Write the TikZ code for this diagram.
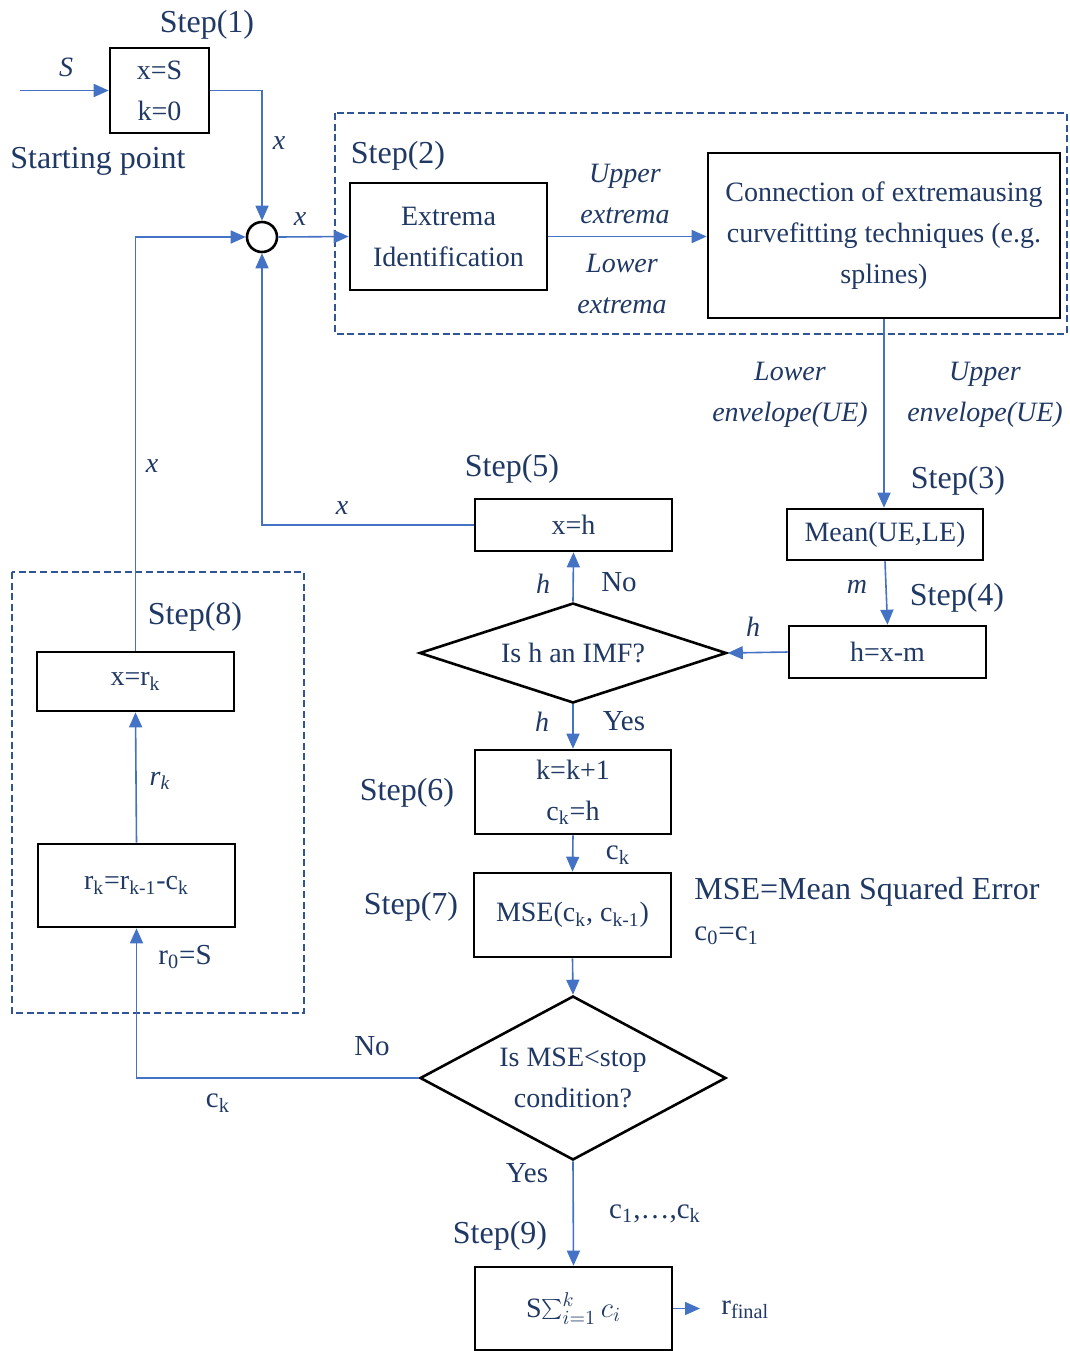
\documentclass[tikz,border=0pt]{standalone}
\usepackage{fontspec}
\setmainfont{Liberation Serif}
\usetikzlibrary{arrows.meta,shapes.geometric}
\definecolor{ink}{HTML}{1F3864}
\definecolor{flow}{HTML}{4472C4}
\definecolor{grp}{HTML}{2F5597}
\tikzset{
  x=0.5pt, y=-0.5pt,
  every node/.style={text=ink, inner sep=0pt},
  box/.style={draw=black, line width=1.3pt, align=center,
    font=\fontsize{14}{20.5}\selectfont},
  dec/.style={draw=black, line width=1.3pt, diamond, align=center,
    font=\fontsize{14}{20.5}\selectfont},
  lbl/.style={font=\fontsize{16}{18}\selectfont},
  var/.style={font=\fontsize{14}{20.5}\selectfont\itshape, align=center},
  sym/.style={font=\fontsize{14.5}{18}\selectfont},
  flowline/.style={draw=flow, line width=0.8pt},
  arr/.style={flowline, -{Triangle[length=7.5pt,width=6.5pt]}},
  group/.style={draw=grp, line width=1.1pt, dash pattern=on 3.5pt off 1.8pt},
}
\begin{document}
\begin{tikzpicture}
\useasboundingbox (0,0) rectangle (1070,1351);

% dashed groups
\draw[group] (335,113) rectangle (1067,334);
\draw[group] (12,572) rectangle (304,1013);

% step 1
\node[lbl] (s1) at (207,25) {Step(1)};
\node[box, minimum width=49.5pt, minimum height=42.5pt] (b1) at (159.5,90.5) {x=S\\k=0};
\coordinate (in) at (20,90.5);
\node[var] (lS) at (66,67) {S};
\node[font=\fontsize{16}{18}\selectfont] (start) at (98,161) {Starting point};

% summing junction
\node[draw=black, line width=1.3pt, circle, minimum size=15pt] (cir) at (262,237) {};

% step 2
\node[lbl] (s2) at (398,156) {Step(2)};
\node[box, minimum width=98.5pt, minimum height=53.5pt] (extr) at (448.5,236.5) {Extrema\\Identification};
\node[box, minimum width=176pt, minimum height=82.5pt] (conn) at (884,235.5)
  {Connection of extremausing\\curvefitting techniques (e.g.\\splines)};
\node[var] (lup) at (625,194) {Upper\\extrema};
\node[var] (llo) at (622,283.5) {Lower\\extrema};

% step 3 / 4
\node[var] (lle) at (790,394.5) {Lower\\envelope(UE)};
\node[var] (lue) at (985,394.5) {Upper\\envelope(UE)};
\node[lbl] (s3) at (958,481) {Step(3)};
\node[box, minimum width=98pt, minimum height=25.5pt] (mean) at (885,534.5) {Mean(UE,LE)};
\node[var] (lm) at (857,587) {m};
\node[lbl] (s4) at (957,598) {Step(4)};
\node[box, minimum width=98.5pt, minimum height=26pt] (hxm) at (887.5,652) {h=x-m};
\node[var] (lh1) at (753,627) {h};

% step 5
\node[lbl] (s5) at (512,469) {Step(5)};
\node[box, minimum width=98.5pt, minimum height=26pt] (xh) at (573.5,525) {x=h};
\node[dec, aspect=3.07, minimum width=153.5pt, minimum height=50pt] (imf) at (573,653) {Is h an IMF?};
\node[var] (lh2) at (543,584) {h};
\node[sym] (lno1) at (619,582) {No};
\node[var] (lh3) at (542,722) {h};
\node[sym] (lyes1) at (624,721) {Yes};
\node[var] (lx3) at (342,508) {x};

% step 6 / 7
\node[lbl] (s6) at (407,793) {Step(6)};
\node[box, minimum width=98pt, minimum height=42pt] (kb) at (573,792) {k=k+1\\c\textsubscript{k}=h};
\node[sym] (lck1) at (618,855) {c\textsubscript{k}};
\node[lbl] (s7) at (411,907) {Step(7)};
\node[box, minimum width=98.5pt, minimum height=42pt] (mse) at (572.5,915) {MSE(c\textsubscript{k}, c\textsubscript{k-1})};
\node[font=\fontsize{16}{18}\selectfont, anchor=west] (mdef) at (694,892) {MSE=Mean Squared Error};
\node[sym, anchor=west] (c01) at (694,936) {c\textsubscript{0}=c\textsubscript{1}};

% stop test
\node[dec, aspect=1.87, minimum width=153pt, minimum height=82pt] (stop) at (573,1078) {Is MSE<stop\\condition?};
\node[sym] (lno2) at (372,1046) {No};
\node[sym] (lck2) at (218,1103) {c\textsubscript{k}};
\node[sym] (lyes2) at (527,1173) {Yes};
\node[sym] (lcs) at (655,1214) {c\textsubscript{1},\ldots,c\textsubscript{k}};

% step 8
\node[lbl] (s8) at (195,617) {Step(8)};
\node[box, minimum width=98.5pt, minimum height=29.5pt] (xr) at (135.5,681.5) {x=r\textsubscript{k}};
\node[box, minimum width=98.5pt, minimum height=41.5pt] (rk) at (136.5,885.5) {r\textsubscript{k}=r\textsubscript{k-1}-c\textsubscript{k}};
\node[var] (lrk) at (160,781) {r\textsubscript{k}};
\node[sym] (lr0) at (185,957) {r\textsubscript{0}=S};
\node[var] (lx4) at (152,466) {x};

% step 9
\node[lbl] (s9) at (500,1236) {Step(9)};
\node[box, minimum width=98.5pt, minimum height=41.5pt] (sum) at (573.5,1308.5) {S$\sum_{i=1}^{k} c_i$};
\coordinate (out) at (700,1308.5);
\node[sym, anchor=west] (rfin) at (721,1310) {r\textsubscript{final}};

% x labels near junction
\node[var] (lx1) at (279,143) {x};
\node[var] (lx2) at (300,219) {x};

% connectors
\draw[arr] (in) -- (b1.west);
\draw[arr] (b1.east) -| (cir.north);
\draw[arr] (cir.east) -- (extr.west);
\draw[arr] (extr.east) -- (extr.east -| conn.west);
\draw[arr] (conn.south) -- (conn.south |- mean.north);
\draw[arr] (mean.south) -- (hxm.north);
\draw[arr] (hxm.west) -- (imf.east);
\draw[arr] (imf.north) -- (xh.south);
\draw[arr] (xh.west) -| (cir.south);
\draw[arr] (imf.south) -- (kb.north);
\draw[arr] (kb.south) -- (mse.north);
\draw[arr] (mse.south) -- (stop.north);
\draw[arr] (stop.west) -| (rk.south);
\draw[arr] (rk.north) -- (xr.south);
\draw[arr] (xr.north) |- (cir.west);
\draw[arr] (stop.south) -- (sum.north);
\draw[arr] (sum.east) -- (out);
\end{tikzpicture}
\end{document}
